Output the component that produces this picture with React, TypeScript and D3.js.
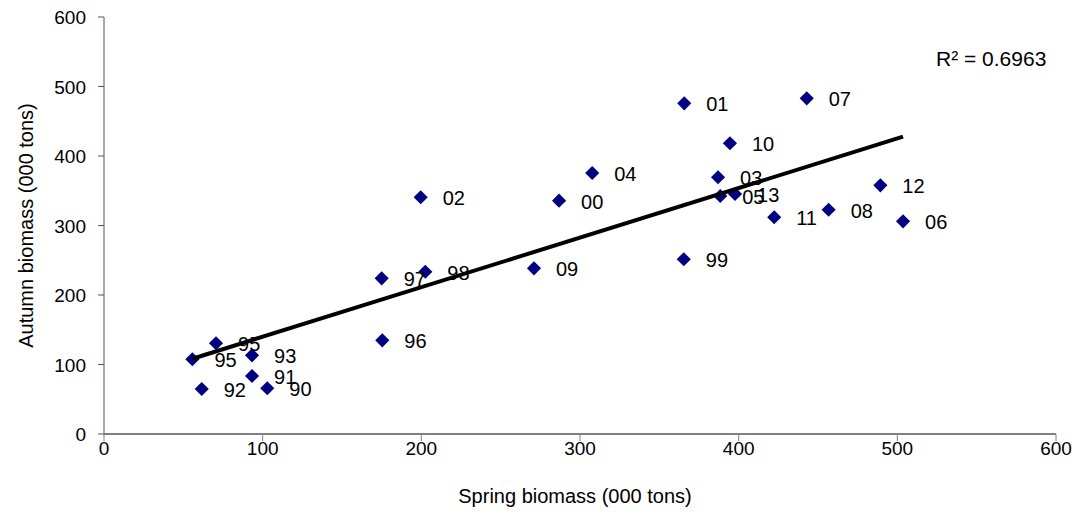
import React from "react";
import * as d3 from "d3";

const years = ["90","91","92","93","95","95","96","97","98","99","00","01","02","03","04","05","06","07","08","09","10","11","12","13"];
const spring = [102.9, 93.3, 61.6, 93.3, 70.6, 55.7, 175.4, 175.0, 202.5, 365.4, 286.8, 365.7, 199.6, 387.0, 307.7, 388.4, 503.6, 442.9, 456.7, 271.0, 394.5, 422.4, 489.3, 397.7];
const autumn = [65.8, 83.5, 64.7, 113.2, 130.5, 107.5, 134.8, 224.0, 233.5, 251.4, 335.7, 475.8, 340.6, 369.4, 375.5, 342.4, 306.0, 483.0, 322.7, 238.4, 418.3, 311.8, 357.8, 345.3];
const xTicks = [0, 100, 200, 300, 400, 500, 600];
const yTicks = [0, 100, 200, 300, 400, 500, 600];
const r2Label = "R² = 0.6963";
const xTitle = "Spring biomass (000 tons)";
const yTitle = "Autumn biomass (000 tons)";

export default function App() {
  const W = 1079, H = 515;
  const x = d3.scaleLinear().domain([0, 600]).range([104, 1056]);
  const y = d3.scaleLinear().domain([0, 600]).range([434, 17]);
  const font = "'Liberation Sans', Arial, sans-serif";

  const mx = d3.mean(spring)!;
  const my = d3.mean(autumn)!;
  let sxy = 0, sxx = 0;
  spring.forEach((v, i) => { sxy += (v - mx) * (autumn[i] - my); sxx += (v - mx) * (v - mx); });
  const slope = sxy / sxx;
  const icpt = my - slope * mx;
  const x0 = d3.min(spring)!, x1 = d3.max(spring)!;
  const line = d3.line<number>().x(d => x(d)).y(d => y(icpt + slope * d));

  const diamond = d3.symbol(d3.symbolSquare, 100)()!;

  return (
    <svg width={W} height={H} style={{ position: "absolute", left: 0, top: 0, background: "#fff" }}>
      {/* axes */}
      <line x1={x(0)} x2={x(600)} y1={y(0)} y2={y(0)} stroke="#808080" strokeWidth={2} />
      <line x1={x(0)} x2={x(0)} y1={y(0)} y2={y(600)} stroke="#555" strokeWidth={1} />
      {xTicks.map(t => (
        <g key={"xt" + t}>
          <line x1={x(t)} x2={x(t)} y1={y(0)} y2={y(0) + 7} stroke="#808080" strokeWidth={1} />
          <text x={x(t)} y={455} textAnchor="middle" fontFamily={font} fontSize={19} fill="#000">{t}</text>
        </g>
      ))}
      {yTicks.map(t => (
        <g key={"yt" + t}>
          <line x1={x(0) - 6} x2={x(0)} y1={y(t)} y2={y(t)} stroke="#555" strokeWidth={1} />
          <text x={86} y={y(t) + 7} textAnchor="end" fontFamily={font} fontSize={19} fill="#000">{t}</text>
        </g>
      ))}
      <text x={575} y={503} textAnchor="middle" fontFamily={font} fontSize={20} fill="#000">{xTitle}</text>
      <text transform={`translate(33,${(y(0) + y(600)) / 2}) rotate(-90)`} textAnchor="middle" fontFamily={font} fontSize={20} fill="#000">{yTitle}</text>

      {/* markers */}
      {spring.map((v, i) => (
        <path key={"m" + i} d={diamond} transform={`translate(${x(v)},${y(autumn[i])}) rotate(45)`} fill="#000080" />
      ))}
      {/* labels */}
      {spring.map((v, i) => (
        <text key={"l" + i} x={x(v) + 22} y={y(autumn[i]) + 8} fontFamily={font} fontSize={20} fill="#000">{years[i]}</text>
      ))}
      {/* trendline */}
      <path d={line([x0, x1])!} stroke="#000" strokeWidth={4} fill="none" />
      <text x={936} y={66} fontFamily={font} fontSize={21} fill="#000">{r2Label}</text>
    </svg>
  );
}
